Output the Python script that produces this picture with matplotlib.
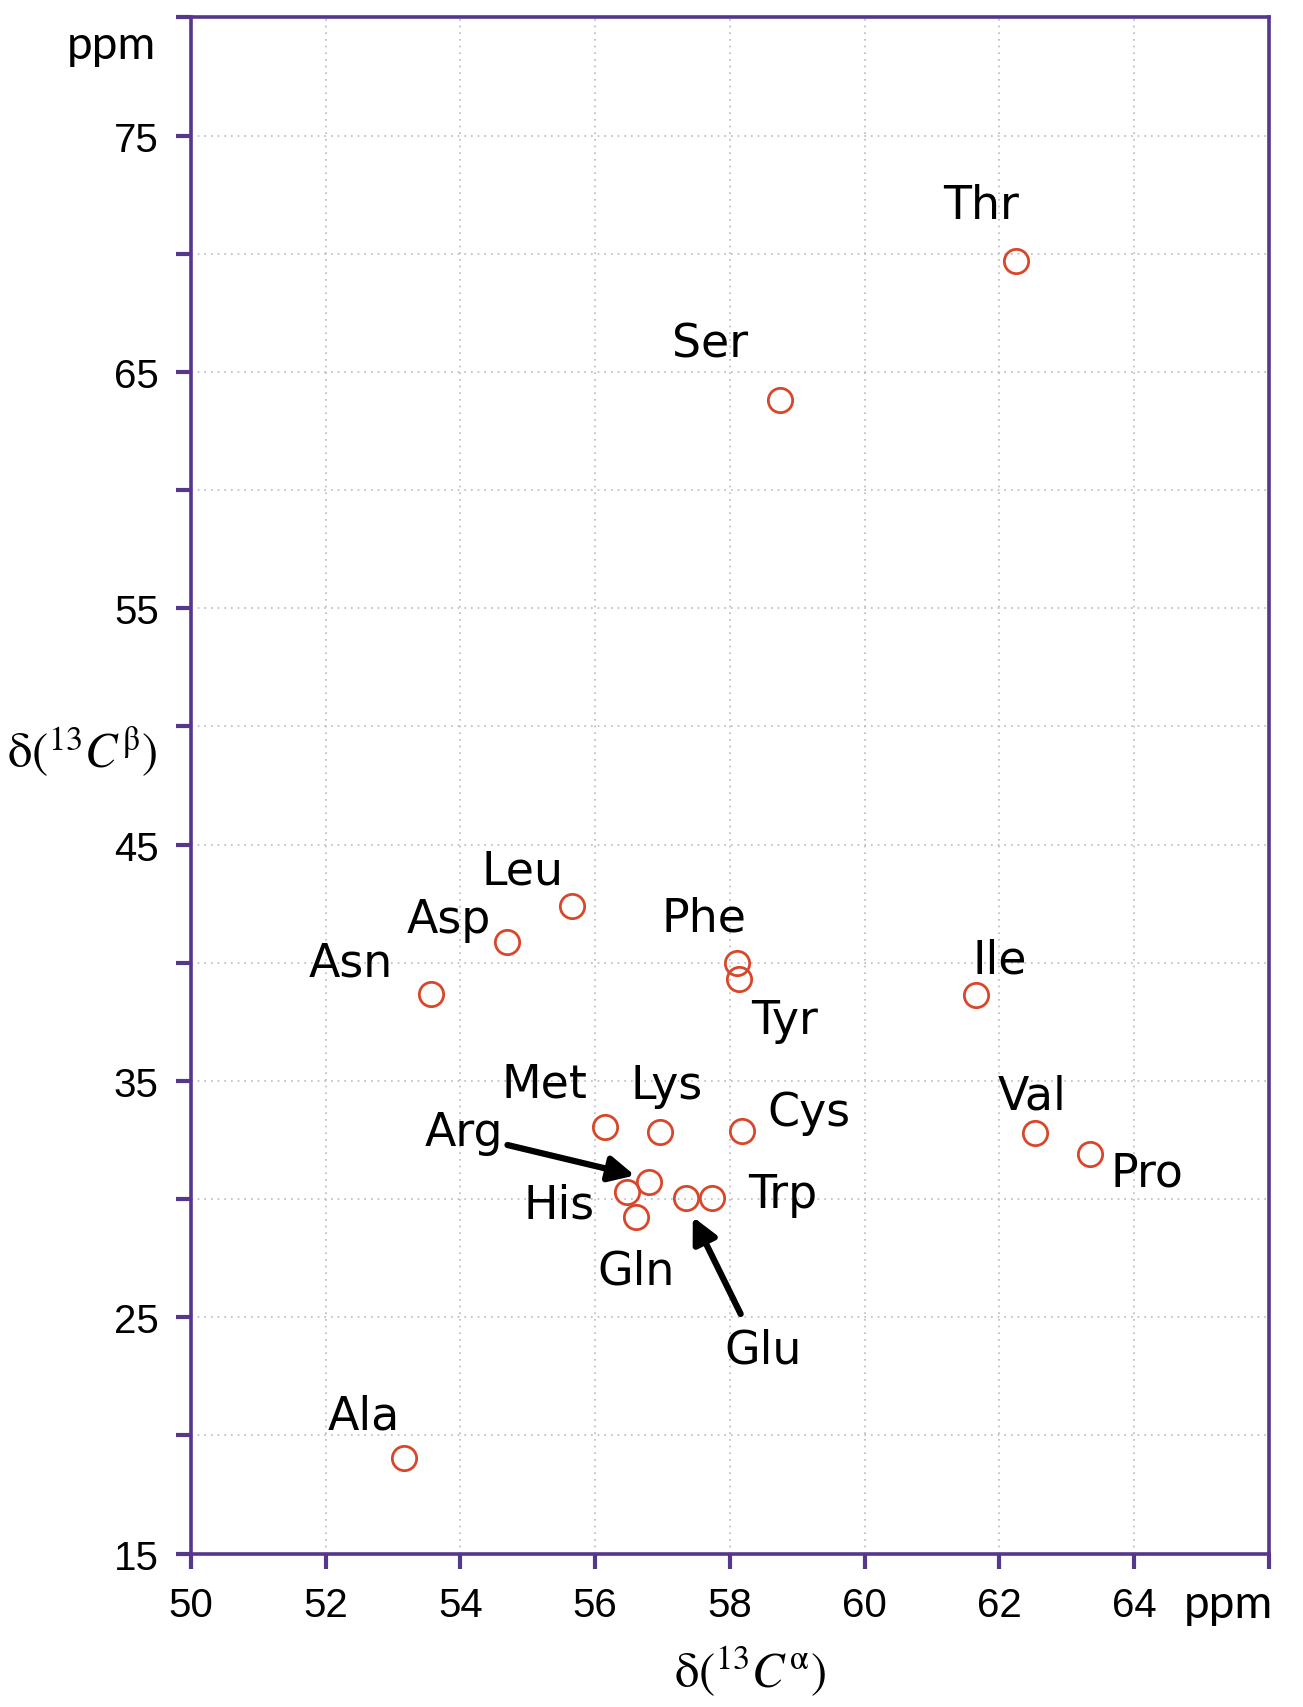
import matplotlib
matplotlib.use("Agg")
import matplotlib.pyplot as plt

# ─── data ─────────────────────────────────────────────────────────────────────

residues = ["Thr", "Ser", "Leu", "Asp", "Asn", "Phe", "Tyr", "Ile", "Met", "Lys",
            "Cys", "Val", "Pro", "Arg", "His", "Gln", "Glu", "Trp", "Ala"]
ca_shift = [62.25, 58.74, 55.66, 54.69, 53.56, 58.11, 58.13, 61.65, 56.14, 56.97,
            58.18, 62.53, 63.35, 56.80, 56.48, 56.61, 57.35, 57.73, 53.17]
cb_shift = [69.7, 63.8, 42.4, 40.9, 38.7, 40.0, 39.3, 38.65, 33.07, 32.84,
            32.89, 32.80, 31.92, 30.72, 30.31, 29.25, 30.03, 30.03, 19.06]

# label anchor positions in data units
label_x = [61.72, 57.71, 54.93, 53.83, 52.38, 57.61, 58.81, 62.00, 55.25, 57.06,
           59.18, 62.49, 64.19, 54.06, 55.46, 56.61, 58.49, 58.78, 52.57]
label_y = [72.03, 66.18, 43.90, 41.83, 40.00, 41.90, 37.55, 40.10, 34.87, 34.82,
           33.67, 34.36, 31.09, 32.84, 29.75, 26.94, 23.62, 30.21, 20.81]

# arrows for crowded residues: (start, end) in data units
arrow_from = [(54.70, 32.29), (58.16, 25.14)]
arrow_to = [(56.59, 31.00), (57.45, 29.25)]

x_ticks = list(range(50, 67, 2))
x_ticklabels = ["50", "52", "54", "56", "58", "60", "62", "64", ""]
y_ticks = list(range(15, 81, 5))
y_ticklabels = [str(v) if v % 10 == 5 else "" for v in y_ticks]

# ─── styling ─────────────────────────────────────────────────────────────────

FRAME = "#55378c"
RED = "#d9472b"
plt.rcParams["mathtext.fontset"] = "stix"

fig = plt.figure(figsize=(13.03, 17.08), dpi=100)
ax = fig.add_axes([0.1464, 0.0898, 0.8275, 0.8994])

ax.set_xlim(50, 66)
ax.set_ylim(15, 80)
ax.set_xticks(x_ticks)
ax.set_xticklabels(x_ticklabels, fontsize=29, family="Liberation Sans")
ax.set_yticks(y_ticks)
ax.set_yticklabels(y_ticklabels, fontsize=29, family="Liberation Sans")
ax.tick_params(direction="out", length=11, width=3, color=FRAME, pad=12)

for sp in ax.spines.values():
    sp.set_color(FRAME)
    sp.set_linewidth(2.6)

ax.grid(True, linestyle=(0, (1, 3)), color="#b8b8c4", linewidth=1.2)
ax.set_axisbelow(True)

ax.plot(ca_shift, cb_shift, "o", markersize=17.5, markerfacecolor="none",
        markeredgecolor=RED, markeredgewidth=2.0, zorder=3)

for name, lx, ly in zip(residues, label_x, label_y):
    ax.text(lx, ly, name, fontsize=33, ha="center", va="center",
            family="DejaVu Sans", color="black")

for (x0, y0), (x1, y1) in zip(arrow_from, arrow_to):
    ax.annotate("", xy=(x1, y1), xytext=(x0, y0),
                arrowprops=dict(arrowstyle="-|>", color="black", lw=4.5,
                                mutation_scale=38, shrinkA=0, shrinkB=0))

# axis captions
fig.text(0.0852, 0.973, "ppm", fontsize=33, ha="center", va="center", family="Lato")
fig.text(0.943, 0.0603, "ppm", fontsize=33, ha="center", va="center", family="Lato")
fig.text(0.063, 0.560, r"$\mathrm{\delta}(^{13}\mathit{C}^{\mathrm{\beta}})$",
         fontsize=35, ha="center", va="center")
fig.text(0.5755, 0.021, r"$\mathrm{\delta}(^{13}\mathit{C}^{\mathrm{\alpha}})$",
         fontsize=35, ha="center", va="center")

fig.savefig("out.png", dpi=100)
